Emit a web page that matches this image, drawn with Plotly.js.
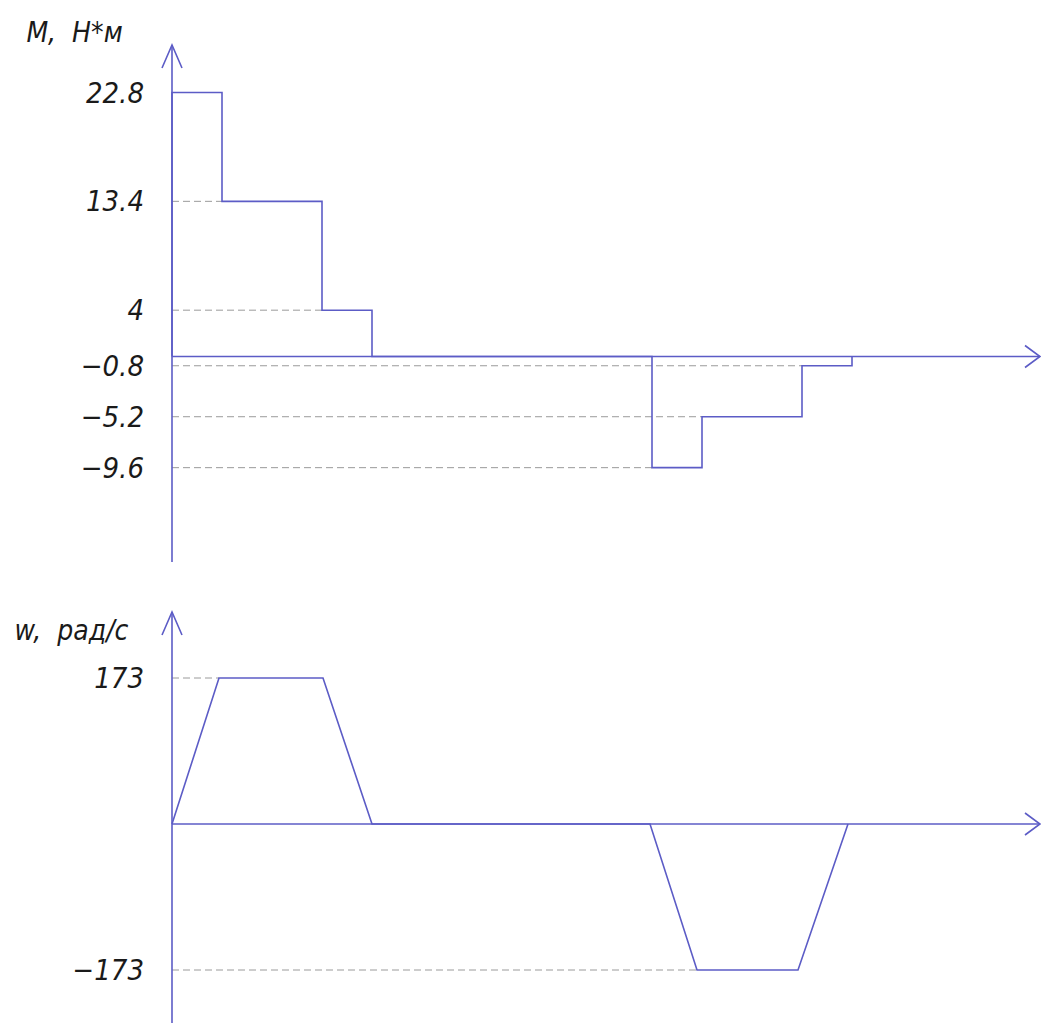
<!DOCTYPE html>
<html>
<head>
<meta charset="utf-8">
<script src="https://cdn.plot.ly/plotly-3.0.1.min.js"></script>
<style>
html,body{margin:0;padding:0;background:#fff;}
#chart{width:1041px;height:1023px;}
#chart svg text{font-stretch:condensed;}
</style>
</head>
<body>
<div id="chart"></div>
<script>
// ---- data ----
// Torque diagram (step plot): segment start times and torque values, N*m
const tStep   = [0, 0.5, 1.5, 2.0, 4.8, 5.3, 6.3, 6.8];
const mValues = [22.8, 13.4, 4, 0, -9.6, -5.2, -0.8, 0];
// Angular velocity diagram (trapezoids), rad/s
const tOmega  = [0, 0.47, 1.51, 2.0, 4.78, 5.25, 6.26, 6.76];
const wValues = [0, 173, 173, 0, 0, -173, -173, 0];
// Tick labels
const mTickVals = [22.8, 13.4, 4, -0.8, -5.2, -9.6];
const mTickText = ["22.8", "13.4", "4", "\u22120.8", "\u22125.2", "\u22129.6"];
const wTickVals = [173, -173];
const wTickText = ["173", "\u2212173"];
const mTitle = "М,  Н*м";
const wTitle = "w,  рад/с";

// ---- styling ----
const W = 1041, H = 1023;
const lineColor = "#5c5cc6";
const guideColor = "#9a9a9a";
const fontFam = "'DejaVu Sans', 'Liberation Sans', sans-serif";
const pxPerT = 100;
const axisX = 172;                       // pixel position of the time origin
const xRange = [-axisX / pxPerT, (W - axisX) / pxPerT];

// top panel pixel geometry
const topDom = [0, 590];
const mZeroPx = 356.5, mPxPerUnit = 11.58;
const mRange = [-(topDom[1] - mZeroPx) / mPxPerUnit, (mZeroPx - topDom[0]) / mPxPerUnit];
// bottom panel
const botDom = [595, 1023];
const wZeroPx = 824, wPxPerUnit = 146 / 173;
const wRange = [-(botDom[1] - wZeroPx) / wPxPerUnit, (wZeroPx - botDom[0]) / wPxPerUnit];

// step trace built from data
const stepX = [tStep[0]], stepY = [0];
for (let i = 0; i < tStep.length; i++) { stepX.push(tStep[i]); stepY.push(mValues[i]); }

// dashed guides from the axis to where each level starts
const gMx = [], gMy = [];
for (let i = 0; i < tStep.length; i++) {
  if (mValues[i] !== 0 && tStep[i] > 0) {
    gMx.push(0, tStep[i], null); gMy.push(mValues[i], mValues[i], null);
  }
}
const gWx = [], gWy = [];
wTickVals.forEach(v => {
  const idx = wValues.indexOf(v);
  gWx.push(0, tOmega[idx], null); gWy.push(v, v, null);
});

const traces = [
  {x: gMx, y: gMy, xaxis: 'x', yaxis: 'y', mode: 'lines', hoverinfo: 'skip',
   line: {color: guideColor, width: 1, dash: '7px,4px'}},
  {x: gWx, y: gWy, xaxis: 'x', yaxis: 'y2', mode: 'lines', hoverinfo: 'skip',
   line: {color: guideColor, width: 1, dash: '7px,4px'}},
  {x: stepX, y: stepY, xaxis: 'x', yaxis: 'y', mode: 'lines',
   line: {color: lineColor, width: 1.6, shape: 'hv'}},
  {x: tOmega, y: wValues, xaxis: 'x', yaxis: 'y2', mode: 'lines',
   line: {color: lineColor, width: 1.6}}
];

const axLine = {color: lineColor, width: 1.6};
const tipX = xRange[1] - 0.01;
const shapes = [
  {type: 'line', xref: 'x', yref: 'y', x0: 0, x1: tipX, y0: 0, y1: 0, line: axLine},
  {type: 'line', xref: 'x', yref: 'y domain', x0: 0, x1: 0, y0: 1 - 562 / 590, y1: 1 - 45 / 590, line: axLine},
  {type: 'path', xref: 'x', yref: 'y', xsizemode: 'pixel', ysizemode: 'pixel',
   xanchor: tipX, yanchor: 0, path: 'M -15 11 L 0 0 L -15 -11', line: axLine},
  {type: 'path', xref: 'x', yref: 'y domain', xsizemode: 'pixel', ysizemode: 'pixel',
   xanchor: 0, yanchor: 1 - 45 / 590, path: 'M -10 -23 L 0 0 L 10 -23', line: axLine},
  {type: 'line', xref: 'x', yref: 'y2', x0: 0, x1: tipX, y0: 0, y1: 0, line: axLine},
  {type: 'line', xref: 'x', yref: 'y2 domain', x0: 0, x1: 0, y0: 0, y1: 1 - (612 - 595) / 428, line: axLine},
  {type: 'path', xref: 'x', yref: 'y2', xsizemode: 'pixel', ysizemode: 'pixel',
   xanchor: tipX, yanchor: 0, path: 'M -15 11 L 0 0 L -15 -11', line: axLine},
  {type: 'path', xref: 'x', yref: 'y2 domain', xsizemode: 'pixel', ysizemode: 'pixel',
   xanchor: 0, yanchor: 1 - (612 - 595) / 428, path: 'M -10 -23 L 0 0 L 10 -23', line: axLine}
];

const tickFont = {family: fontFam, size: 29, color: '#1a1a1a', style: 'italic'};
const yCommon = {
  anchor: 'free', position: axisX / W, showgrid: false, zeroline: false, showline: false,
  ticks: '', tickmode: 'array', tickfont: tickFont, ticklabelstandoff: 28, fixedrange: true
};

const layout = {
  width: W, height: H,
  margin: {l: 0, r: 0, t: 0, b: 0},
  paper_bgcolor: '#ffffff', plot_bgcolor: '#ffffff',
  showlegend: false,
  xaxis: {range: xRange, domain: [0, 1], visible: false, fixedrange: true},
  yaxis: Object.assign({}, yCommon, {
    domain: [1 - topDom[1] / H, 1 - topDom[0] / H], range: mRange,
    tickvals: mTickVals, ticktext: mTickText}),
  yaxis2: Object.assign({}, yCommon, {
    domain: [1 - botDom[1] / H, 1 - botDom[0] / H], range: wRange,
    tickvals: wTickVals, ticktext: wTickText}),
  shapes: shapes,
  annotations: [
    {text: mTitle, xref: 'paper', yref: 'paper', x: 74 / W, y: 1 - 33 / H,
     showarrow: false, xanchor: 'center', yanchor: 'middle',
     font: {family: fontFam, size: 28, color: '#1a1a1a', style: 'italic'}},
    {text: wTitle, xref: 'paper', yref: 'paper', x: 72 / W, y: 1 - 630 / H,
     showarrow: false, xanchor: 'center', yanchor: 'middle',
     font: {family: fontFam, size: 28, color: '#1a1a1a', style: 'italic'}}
  ]
};

Plotly.newPlot('chart', traces, layout, {displayModeBar: false, staticPlot: true});
</script>
</body>
</html>
